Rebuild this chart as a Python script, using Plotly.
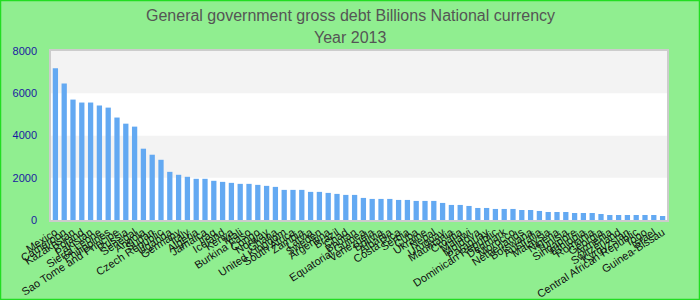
import plotly.graph_objects as go

countries = [
    "Mexico", "Cameroon", "Kazakhstan", "Poland", "Pakistan", "Sierra Leone", "Philippines",
    "Sao Tome and Principe", "Russia", "Senegal", "Angola", "Sudan", "Czech Republic",
    "Uganda", "Germany", "Italy", "Algeria", "Jamaica", "Iraq", "Iceland", "Kenya", "Mali",
    "Burkina Faso", "Congo", "Norway", "Ghana", "United Kingdom", "South Africa", "Zambia",
    "Latvia", "Sweden", "Argentina", "Brazil", "Chad", "Bhutan", "Equatorial Guinea",
    "Venezuela", "Bolivia", "Albania", "Costa Rica", "Serbia", "Cuba", "Ukraine", "Nepal",
    "Uruguay", "Mauritania", "Croatia", "Malawi", "Moldova", "Paraguay", "Dominican Republic",
    "Denmark", "Morocco", "Netherlands", "Botswana", "Australia", "Malaysia", "Nigeria",
    "Tunisia", "Singapore", "Ethiopia", "Romania", "Georgia", "Armenia", "Switzerland",
    "Kyrgyzstan", "Central African Republic", "Togo", "Israel", "Guinea-Bissau",
]

debt = [
    7180, 6460, 5700, 5560, 5560, 5420, 5320, 4850, 4560, 4420,
    3375, 3090, 2850, 2280, 2140, 2045, 1950, 1950, 1855, 1805,
    1758, 1711, 1711, 1663, 1616, 1568, 1426, 1426, 1426, 1331,
    1331, 1283, 1236, 1188, 1188, 1045, 998, 998, 998, 950,
    950, 903, 903, 903, 808, 713, 713, 665, 570, 570,
    523, 523, 523, 475, 475, 428, 380, 380, 380, 333,
    333, 333, 285, 238, 238, 238, 238, 238, 238, 190,
]

y_ticks = [0, 2000, 4000, 6000, 8000]
title_lines = ["General government gross debt Billions National currency", "Year 2013"]

fig = go.Figure()
fig.add_trace(go.Bar(x=countries, y=debt, marker=dict(color="#63a9f2", line=dict(width=0))))

W, H, L, R, T, B = 700, 300, 51, 33, 51, 80
pw, ph = W - L - R, H - T - B

shapes = []
for i in range(len(y_ticks) - 1):
    shapes.append(dict(
        type="rect", xref="paper", yref="y", x0=0, x1=1,
        y0=y_ticks[i], y1=y_ticks[i + 1],
        fillcolor="#f3f3f3" if i % 2 == 1 else "#ffffff",
        line=dict(width=0), layer="below",
    ))
shapes.append(dict(
    type="rect", xref="paper", yref="paper",
    x0=-L / pw + 0.5 / pw, x1=1 + (R - 0.5) / pw,
    y0=-B / ph + 0.5 / ph, y1=1 + (T - 0.5) / ph,
    line=dict(color="#22dd22", width=1.5), fillcolor="rgba(0,0,0,0)",
))

annotations = []
for txt, py in zip(title_lines, [15, 37]):
    annotations.append(dict(
        text=txt, xref="paper", yref="paper", x=(W / 2 - L) / pw,
        y=1 + (T - py) / ph, xanchor="center", yanchor="middle", showarrow=False,
        font=dict(size=16, color="#555555"),
    ))

fig.update_layout(
    width=W, height=H,
    margin=dict(l=L, r=R, t=T, b=B),
    paper_bgcolor="#90ee90",
    plot_bgcolor="#ffffff",
    font=dict(family="Liberation Sans, Arial, sans-serif"),
    bargap=0.4,
    showlegend=False,
    shapes=shapes,
    annotations=annotations,
    xaxis=dict(
        tickangle=-33, tickfont=dict(size=11, color="#111111"),
        tickmode="linear", dtick=1,
        showgrid=False, showline=True, linecolor="#cccccc", linewidth=1.5, mirror=True,
        ticks="", automargin=False,
    ),
    yaxis=dict(
        range=[0, 8000], tickvals=y_ticks, tickfont=dict(size=11, color="#1a1aa0"),
        showgrid=False, zeroline=False, showline=True, linecolor="#cccccc", linewidth=1.5,
        mirror=True, ticks="outside", ticklen=10, tickcolor="rgba(0,0,0,0)",
        automargin=False,
    ),
)

fig.write_html("out.html")
